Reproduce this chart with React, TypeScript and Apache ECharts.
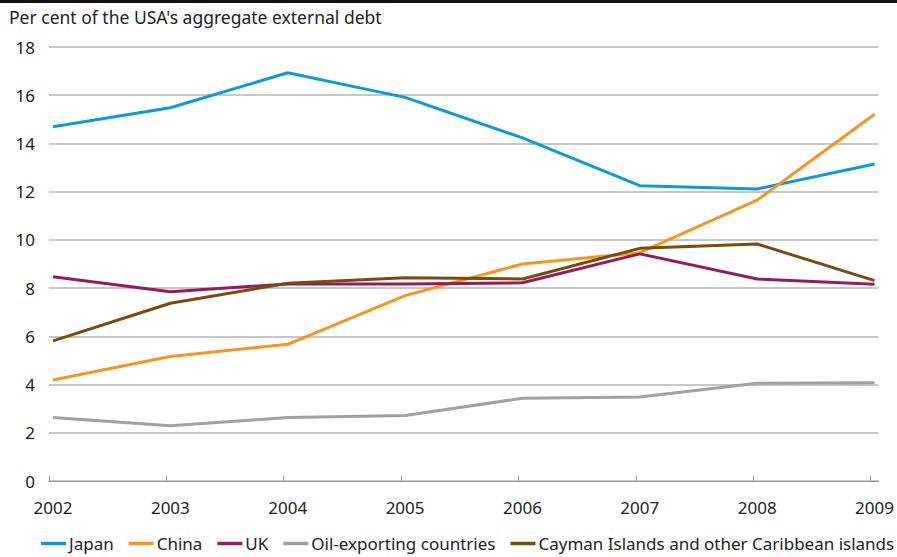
import React, { useEffect, useRef } from "react";
import * as echarts from "echarts";

const years = [2002, 2003, 2004, 2005, 2006, 2007, 2008, 2009];
const japan = [14.69, 15.48, 16.93, 15.91, 14.23, 12.25, 12.11, 13.15];
const china = [4.19, 5.16, 5.67, 7.69, 9.0, 9.47, 11.65, 15.21];
const uk = [8.47, 7.85, 8.17, 8.17, 8.22, 9.42, 8.38, 8.16];
const oil = [2.63, 2.29, 2.63, 2.72, 3.43, 3.48, 4.05, 4.08];
const cayman = [5.81, 7.37, 8.2, 8.43, 8.38, 9.65, 9.83, 8.31];
const seriesNames = ["Japan", "China", "UK", "Oil-exporting countries", "Cayman Islands and other Caribbean islands"];
const seriesColors = ["#0d9ad8", "#f7951d", "#98195f", "#a0a0a5", "#7a4a0e"];
const title = "Per cent of the USA's aggregate external debt";

const FONT = "'Noto Sans', 'Open Sans', sans-serif";
const FS = 17;

export default function App() {
  const ref = useRef<HTMLDivElement>(null);
  useEffect(() => {
    document.body.style.margin = "0";
    if (!ref.current) return;
    const chart = echarts.init(ref.current, null, { renderer: "svg" });
    const all = [japan, china, uk, oil, cayman];
    const off = 0.034;
    chart.setOption({
      animation: false,
      backgroundColor: "#ffffff",
      textStyle: { fontFamily: FONT },
      graphic: [
        { type: "rect", shape: { x: 0, y: 0, width: 897, height: 3 }, style: { fill: "#111" } },
        {
          type: "text",
          left: 9,
          top: 8,
          style: { text: title, fontSize: 17.5, fontFamily: FONT, fill: "#222" },
        },
      ],
      grid: { left: 49, right: 17, top: 47, bottom: 76, containLabel: false },
      xAxis: {
        type: "value",
        min: years[0] - off,
        max: years[years.length - 1] + off,
        splitLine: { show: false },
        axisLine: { show: true, lineStyle: { color: "#9a9a9a", width: 1 } },
        axisTick: {
          show: true,
          inside: true,
          length: 5,
          lineStyle: { color: "#9a9a9a" },
          customValues: years.map((y) => y - off),
        },
        axisLabel: {
          customValues: years,
          formatter: (v: number) => String(Math.round(v)),
          fontSize: FS,
          color: "#222",
          fontFamily: FONT,
          margin: 18,
          showMinLabel: true,
          showMaxLabel: true,
        },
      },
      yAxis: {
        type: "value",
        min: 0,
        max: 18,
        interval: 2,
        axisLine: { show: false },
        axisTick: { show: false },
        axisLabel: { fontSize: FS, color: "#222", fontFamily: FONT, margin: 14 },
        splitLine: { lineStyle: { color: "#b5b5b5", width: 1.5 } },
      },
      legend: {
        left: 41,
        top: 535,
        padding: 0,
        icon: "rect",
        itemWidth: 25,
        itemHeight: 3.5,
        itemGap: 15,
        width: 890,
        textStyle: { fontSize: FS, color: "#222", fontFamily: FONT, padding: [0, 0, 0, -2] },
        data: seriesNames,
      },
      series: all.map((d, i) => ({
        name: seriesNames[i],
        type: "line",
        data: years.map((y, j) => [y, d[j]]),
        showSymbol: false,
        symbol: "none",
        color: seriesColors[i],
        lineStyle: { width: 3, color: seriesColors[i] },
      })),
    });
    return () => chart.dispose();
  }, []);
  return <div ref={ref} style={{ width: 897, height: 557 }} />;
}
